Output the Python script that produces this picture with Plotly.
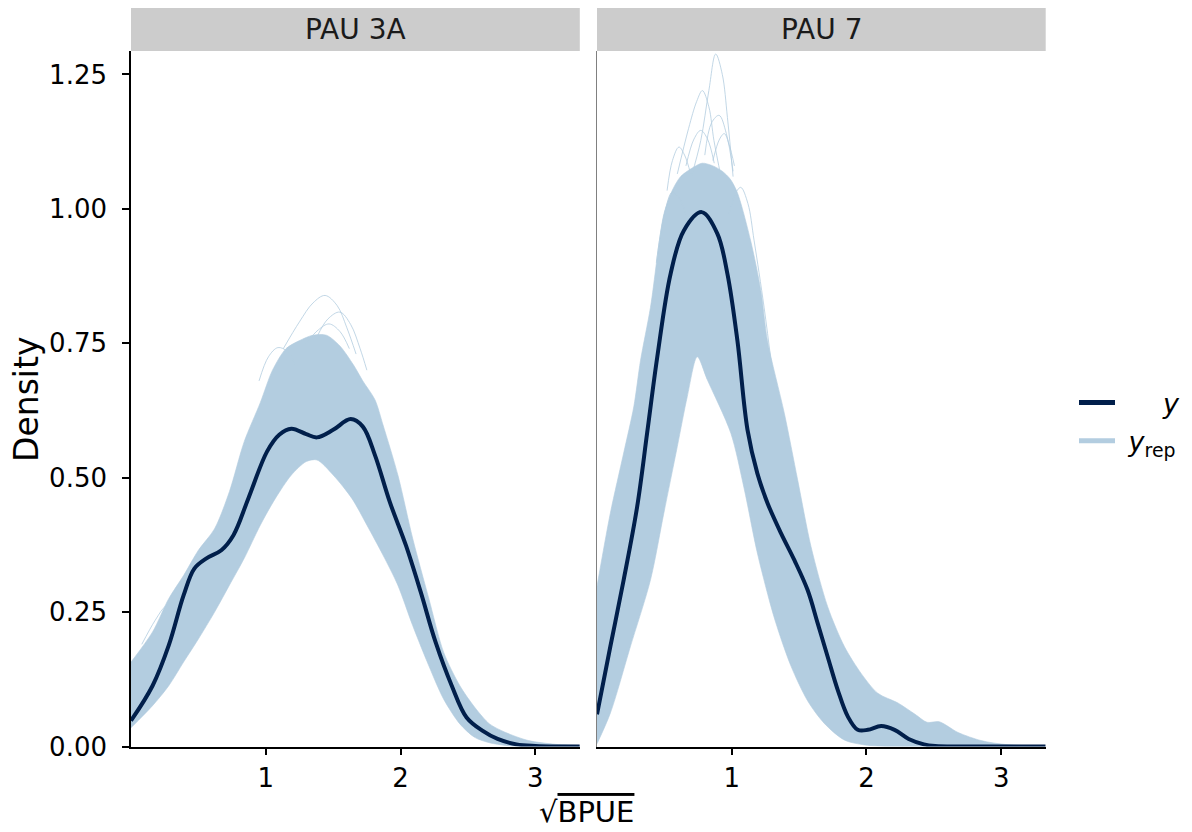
import plotly.graph_objects as go

# The page body adds an 8px margin, so every position is shifted by 8px;
# the figure fills the rest of the 1192x832 window.
WIN_W, WIN_H = 1192, 832
OFF = 8
W, H = WIN_W - OFF, WIN_H - OFF

# ---------------- data ----------------
panels = ["PAU 3A", "PAU 7"]
x_tick_vals = [1, 2, 3]
y_tick_vals = [0, 0.25, 0.5, 0.75, 1.0, 1.25]
y_tick_text = ["0.00", "0.25", "0.50", "0.75", "1.00", "1.25"]

# PAU 3A : observed density (y)
obs_3a_x = [0, 0.16, 0.28, 0.39, 0.47, 0.56, 0.67, 0.76, 0.87, 1.01, 1.10, 1.19, 1.30, 1.38,
            1.50, 1.63, 1.72, 1.81, 1.92, 2.04, 2.15, 2.26, 2.38, 2.49, 2.61, 2.72, 2.86, 3.0, 3.15, 3.33]
obs_3a_y = [0.048, 0.113, 0.188, 0.281, 0.331, 0.350, 0.365, 0.393, 0.461, 0.549, 0.580, 0.591, 0.581, 0.575,
            0.589, 0.609, 0.595, 0.542, 0.455, 0.374, 0.287, 0.194, 0.113, 0.054, 0.029, 0.014, 0.004, 0.001, 0.0, 0.0]

# PAU 3A : replicated densities (y_rep) - upper / lower edges of the dense bundle
rep_3a_upper_x = [0, 0.16, 0.28, 0.39, 0.50, 0.62, 0.73, 0.84, 0.96, 1.05, 1.15, 1.25, 1.35, 1.45, 1.55,
                  1.65, 1.72, 1.81, 1.87, 1.98, 2.09, 2.21, 2.32, 2.44, 2.55, 2.66, 2.78, 2.95, 3.15, 3.33]
rep_3a_upper_y = [0.157, 0.213, 0.275, 0.318, 0.365, 0.405, 0.474, 0.567, 0.64, 0.70, 0.74, 0.755, 0.765, 0.765, 0.745,
                  0.71, 0.68, 0.645, 0.598, 0.505, 0.387, 0.275, 0.175, 0.113, 0.073, 0.042, 0.026, 0.011, 0.004, 0.001]
rep_3a_lower_x = [0, 0.16, 0.28, 0.39, 0.50, 0.62, 0.73, 0.84, 0.96, 1.07, 1.19, 1.30, 1.38, 1.50, 1.64,
                  1.75, 1.87, 1.98, 2.09, 2.21, 2.32, 2.44, 2.55, 2.66, 2.78, 2.90, 3.33]
rep_3a_lower_y = [0.035, 0.076, 0.113, 0.157, 0.20, 0.25, 0.30, 0.35, 0.412, 0.461, 0.505, 0.53, 0.533, 0.505, 0.461,
                  0.412, 0.356, 0.30, 0.225, 0.15, 0.088, 0.042, 0.017, 0.007, 0.002, 0.0, 0.0]
# PAU 3A : single replicated curves standing out of the bundle
rep_3a_out1_x = [1.13, 1.25, 1.35, 1.44, 1.53, 1.60, 1.67]
rep_3a_out1_y = [0.74, 0.79, 0.825, 0.839, 0.82, 0.78, 0.73]
rep_3a_out2_x = [1.38, 1.46, 1.55, 1.63, 1.70, 1.75]
rep_3a_out2_y = [0.762, 0.795, 0.808, 0.785, 0.74, 0.70]
rep_3a_out3_x = [1.30, 1.39, 1.47, 1.55, 1.62]
rep_3a_out3_y = [0.75, 0.775, 0.786, 0.772, 0.74]
rep_3a_out4_x = [0.95, 1.02, 1.09, 1.16, 1.22]
rep_3a_out4_y = [0.68, 0.725, 0.742, 0.735, 0.71]
rep_3a_out5_x = [0.08, 0.18, 0.26, 0.33, 0.40]
rep_3a_out5_y = [0.19, 0.235, 0.262, 0.268, 0.27]

# PAU 7 : observed density (y)
obs_7_x = [0, 0.099, 0.198, 0.298, 0.372, 0.447, 0.546, 0.645, 0.777, 0.893, 0.968, 1.042, 1.117, 1.19,
           1.265, 1.365, 1.464, 1.563, 1.638, 1.712, 1.787, 1.861, 1.935, 2.01, 2.109, 2.208, 2.313, 2.426, 2.51, 2.7, 3.33]
obs_7_y = [0.06, 0.186, 0.31, 0.446, 0.583, 0.724, 0.879, 0.96, 0.994, 0.954, 0.879, 0.755, 0.589, 0.508,
           0.453, 0.397, 0.347, 0.291, 0.229, 0.167, 0.105, 0.056, 0.031, 0.031, 0.038, 0.031, 0.014, 0.004, 0.001, 0.0, 0.0]

# PAU 7 : replicated densities (y_rep) - edges of the dense bundle
rep_7_upper_x = [0, 0.099, 0.198, 0.273, 0.323, 0.397, 0.496, 0.56, 0.62, 0.70, 0.78, 0.86, 0.93, 0.99, 1.042,
                 1.14, 1.216, 1.265, 1.39, 1.489, 1.588, 1.712, 1.836, 1.96, 2.084, 2.233, 2.36, 2.45, 2.54,
                 2.68, 2.85, 3.02, 3.33]
rep_7_upper_y = [0.298, 0.434, 0.546, 0.632, 0.718, 0.817, 0.99, 1.035, 1.06, 1.075, 1.085, 1.08, 1.07, 1.055, 1.03,
                 0.941, 0.848, 0.755, 0.62, 0.496, 0.372, 0.26, 0.186, 0.136, 0.099, 0.081, 0.06, 0.045, 0.046,
                 0.026, 0.011, 0.004, 0.0]
rep_7_lower_x = [0, 0.099, 0.248, 0.397, 0.496, 0.596, 0.67, 0.744, 0.819, 0.993, 1.092, 1.19, 1.315, 1.439,
                 1.563, 1.687, 1.836, 1.985, 2.2, 3.33]
rep_7_lower_y = [0.005, 0.062, 0.186, 0.31, 0.434, 0.558, 0.651, 0.725, 0.682, 0.583, 0.48, 0.36, 0.24, 0.15,
                 0.085, 0.043, 0.012, 0.003, 0.0, 0.0]
# PAU 7 : single replicated curves standing out of the bundle
rep_7_out1_x = [0.70, 0.77, 0.83, 0.881, 0.93, 0.968, 1.01]
rep_7_out1_y = [1.06, 1.127, 1.22, 1.288, 1.25, 1.17, 1.06]
rep_7_out2_x = [0.596, 0.68, 0.74, 0.782, 0.83, 0.868, 0.92]
rep_7_out2_y = [1.065, 1.15, 1.20, 1.22, 1.19, 1.127, 1.06]
rep_7_out3_x = [0.80, 0.85, 0.906, 0.96, 1.01]
rep_7_out3_y = [1.10, 1.16, 1.174, 1.14, 1.07]
rep_7_out4_x = [0.52, 0.56, 0.608, 0.65, 0.695]
rep_7_out4_y = [1.034, 1.09, 1.115, 1.10, 1.065]
rep_7_out5_x = [0.98, 1.03, 1.067, 1.12, 1.166, 1.24, 1.30]
rep_7_out5_y = [0.99, 1.03, 1.04, 1.01, 0.941, 0.817, 0.70]
rep_7_out6_x = [0.66, 0.72, 0.77, 0.82, 0.87]
rep_7_out6_y = [1.08, 1.13, 1.146, 1.13, 1.085]
rep_7_out7_x = [0.86, 0.91, 0.945, 0.98, 1.02]
rep_7_out7_y = [1.09, 1.13, 1.14, 1.12, 1.08]
rep_7_out8_x = [0.44, 0.50, 0.558, 0.61, 0.66]
rep_7_out8_y = [0.90, 0.99, 1.031, 1.02, 0.99]

# ---------------- styles ----------------
Y_COL = "#011f4b"
YREP_COL = "#b3cde0"
YREP_EDGE = "rgba(179,205,224,0.8)"
FONT = "DejaVu Sans"
NBSP = "\u00a0"


def px_x(p):
    return (p - OFF) / W


def px_y(p):
    return 1 - (p - OFF) / H


fig = go.Figure()

panel_data = [
    dict(obs=(obs_3a_x, obs_3a_y), up=(rep_3a_upper_x, rep_3a_upper_y), lo=(rep_3a_lower_x, rep_3a_lower_y),
         outs=[(rep_3a_out1_x, rep_3a_out1_y), (rep_3a_out2_x, rep_3a_out2_y), (rep_3a_out3_x, rep_3a_out3_y),
               (rep_3a_out4_x, rep_3a_out4_y), (rep_3a_out5_x, rep_3a_out5_y)]),
    dict(obs=(obs_7_x, obs_7_y), up=(rep_7_upper_x, rep_7_upper_y), lo=(rep_7_lower_x, rep_7_lower_y),
         outs=[(rep_7_out1_x, rep_7_out1_y), (rep_7_out2_x, rep_7_out2_y), (rep_7_out3_x, rep_7_out3_y),
               (rep_7_out4_x, rep_7_out4_y), (rep_7_out5_x, rep_7_out5_y), (rep_7_out6_x, rep_7_out6_y),
               (rep_7_out7_x, rep_7_out7_y), (rep_7_out8_x, rep_7_out8_y)]),
]

for i, pdat in enumerate(panel_data):
    xa = "x" if i == 0 else "x2"
    ya = "y" if i == 0 else "y2"
    ux, uy = pdat["up"]
    lx, ly = pdat["lo"]
    fig.add_trace(go.Scatter(
        x=list(ux) + list(lx)[::-1], y=list(uy) + list(ly)[::-1],
        fill="toself", fillcolor=YREP_COL, mode="lines",
        line=dict(color=YREP_EDGE, width=0.8, shape="spline", smoothing=0.8),
        xaxis=xa, yaxis=ya, showlegend=False, hoverinfo="skip"))
    for ox, oy in pdat["outs"]:
        fig.add_trace(go.Scatter(
            x=ox, y=oy, mode="lines",
            line=dict(color=YREP_EDGE, width=1.0, shape="spline", smoothing=1.0),
            xaxis=xa, yaxis=ya, showlegend=False, hoverinfo="skip"))
    obx, oby = pdat["obs"]
    fig.add_trace(go.Scatter(
        x=obx, y=oby, mode="lines",
        line=dict(color=Y_COL, width=4, shape="spline", smoothing=1.0),
        xaxis=xa, yaxis=ya, showlegend=False, hoverinfo="skip"))

# legend entries
fig.add_trace(go.Scatter(x=[None], y=[None], mode="lines", name=NBSP * 5 + "<i>y</i>",
                         line=dict(color=Y_COL, width=5)))
fig.add_trace(go.Scatter(x=[None], y=[None], mode="lines", name=NBSP + "<i>y</i><sub>rep</sub>",
                         line=dict(color=YREP_COL, width=5)))

y_dom = [px_y(746.5), px_y(51)]
x1_dom = [px_x(131), px_x(579.8)]
x2_dom = [px_x(597), px_x(1045.7)]
tickfont = dict(family=FONT, size=26, color="#000000")

common_x = dict(range=[0, 3.33], tickvals=x_tick_vals, ticks="outside", ticklen=7, tickwidth=1.5,
                tickcolor="#000", showline=True, linecolor="#000", linewidth=1.6, showgrid=False,
                zeroline=False, tickfont=tickfont, fixedrange=True, automargin=False)

fig.update_layout(
    width=W, height=H,
    margin=dict(l=0, r=0, t=0, b=0, pad=0, autoexpand=False),
    paper_bgcolor="white", plot_bgcolor="white",
    font=dict(family=FONT, size=26, color="#000"),
    xaxis=dict(domain=x1_dom, anchor="y", **common_x),
    xaxis2=dict(domain=x2_dom, anchor="y2", **common_x),
    yaxis=dict(domain=y_dom, anchor="x", range=[0, 1.2937], tickvals=y_tick_vals, ticktext=y_tick_text,
               ticks="outside", ticklen=7, tickwidth=1.5, tickcolor="#000", showline=True, linecolor="#000",
               linewidth=1.6, showgrid=False, zeroline=False, tickfont=tickfont, fixedrange=True,
               ticklabelstandoff=10, automargin=False),
    yaxis2=dict(domain=y_dom, anchor="x2", range=[0, 1.2937], showticklabels=False, ticks="",
                showline=True, linecolor="#808080", linewidth=1, showgrid=False, zeroline=False,
                fixedrange=True, automargin=False),
    showlegend=True,
    legend=dict(x=px_x(1074), y=px_y(422), xanchor="left", yanchor="middle", bgcolor="rgba(0,0,0,0)",
                font=dict(family=FONT, size=27, color="#000"), itemwidth=36, tracegroupgap=0),
)

shapes = []
annotations = []
for name, dom in zip(panels, [x1_dom, x2_dom]):
    shapes.append(dict(type="rect", xref="paper", yref="paper", x0=dom[0], x1=dom[1],
                       y0=px_y(51), y1=px_y(8), fillcolor="#cccccc", line=dict(width=0), layer="below"))
    annotations.append(dict(text=name, xref="paper", yref="paper", x=(dom[0] + dom[1]) / 2, y=px_y(29.5),
                            xanchor="center", yanchor="middle", showarrow=False,
                            font=dict(family=FONT, size=28, color="#1a1a1a")))

annotations.append(dict(text="Density", xref="paper", yref="paper", x=px_x(26), y=px_y(400),
                        xanchor="center", yanchor="middle", textangle=-90, showarrow=False,
                        font=dict(family=FONT, size=33, color="#000")))
annotations.append(dict(text="\u221a<span style='text-decoration:overline'>BPUE</span>", xref="paper", yref="paper",
                        x=px_x(586), y=px_y(812),
                        xanchor="center", yanchor="middle", showarrow=False,
                        font=dict(family=FONT, size=29, color="#000")))

fig.update_layout(shapes=shapes, annotations=annotations)

fig.write_html("out.html")
